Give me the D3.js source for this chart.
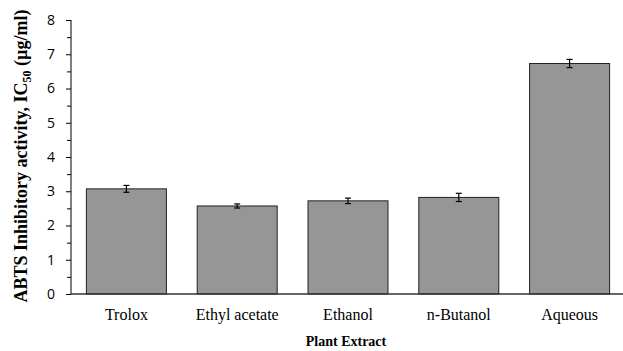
<!DOCTYPE html>
<html>
<head>
<meta charset="utf-8">
<script src="https://cdn.jsdelivr.net/npm/d3@7"></script>
<style>
  body { margin: 0; background: #fff; }
  .yaxis text { font-family: "Open Sans", "Liberation Sans", sans-serif; font-size: 14px; fill: #000; }
</style>
</head>
<body>
<div id="chart"></div>
<script>
// data
var categories = ["Trolox", "Ethyl acetate", "Ethanol", "n-Butanol", "Aqueous"];
var values = [3.07, 2.57, 2.72, 2.82, 6.73];
var errors = [0.10, 0.06, 0.08, 0.12, 0.12];
var yTicks = [0, 1, 2, 3, 4, 5, 6, 7, 8];

var W = 623, H = 351;
var margin = {top: 20, right: 0, bottom: 57, left: 71},
    width = W - margin.left - margin.right,
    height = H - margin.top - margin.bottom;

var svg = d3.select("#chart")
  .append("svg")
    .attr("width", W)
    .attr("height", H)
  .append("g")
    .attr("transform", "translate(" + margin.left + "," + margin.top + ")");

var data = categories.map(function(c, i) {
  return {name: c, value: values[i], err: errors[i]};
});

var x = d3.scaleBand()
  .domain(categories)
  .range([0, width + 2])
  .paddingInner(0.278)
  .paddingOuter(0.139);

var y = d3.scaleLinear()
  .domain([0, 8])
  .range([height, 0]);

// minor ticks every 0.5
svg.append("g")
  .attr("class", "minor")
  .call(d3.axisLeft(y).tickValues(d3.range(0.5, 8, 1)).tickSize(4).tickFormat(""))
  .call(function(g) { g.select(".domain").remove(); })
  .selectAll("line").attr("stroke", "#000");

// y axis
svg.append("g")
  .attr("class", "yaxis")
  .call(d3.axisLeft(y).tickValues(yTicks).tickSize(5).tickPadding(11).tickFormat(d3.format("d")))
  .call(function(g) {
    g.select(".domain").attr("d", "M0,0V" + height).attr("stroke", "#000");
    g.selectAll("line").attr("stroke", "#000");
  });

// bars
svg.selectAll("rect.bar")
  .data(data)
  .enter()
  .append("rect")
    .attr("class", "bar")
    .attr("x", function(d) { return x(d.name); })
    .attr("y", function(d) { return y(d.value); })
    .attr("width", x.bandwidth())
    .attr("height", function(d) { return height - y(d.value); })
    .attr("fill", "#969696")
    .attr("stroke", "#222")
    .attr("stroke-width", 1);

// x baseline
svg.append("line")
  .attr("x1", 0).attr("x2", width)
  .attr("y1", height).attr("y2", height)
  .attr("stroke", "#333")
  .attr("stroke-width", 1.5);

// error bars
var eb = svg.selectAll("g.err")
  .data(data)
  .enter()
  .append("g")
    .attr("class", "err")
    .attr("transform", function(d) { return "translate(" + (x(d.name) + x.bandwidth() / 2) + ",0)"; })
    .attr("stroke", "#000")
    .attr("stroke-width", 1.2);
eb.append("line")
  .attr("y1", function(d) { return y(d.value + d.err); })
  .attr("y2", function(d) { return y(d.value - d.err); });
eb.append("line")
  .attr("x1", -3).attr("x2", 3)
  .attr("y1", function(d) { return y(d.value + d.err); })
  .attr("y2", function(d) { return y(d.value + d.err); });
eb.append("line")
  .attr("x1", -3).attr("x2", 3)
  .attr("y1", function(d) { return y(d.value - d.err); })
  .attr("y2", function(d) { return y(d.value - d.err); });

// category labels
svg.selectAll("text.cat")
  .data(categories)
  .enter()
  .append("text")
    .attr("class", "cat")
    .attr("x", function(d) { return x(d) + x.bandwidth() / 2; })
    .attr("y", height + 26)
    .attr("text-anchor", "middle")
    .style("font-family", "'Liberation Serif', 'Times New Roman', serif")
    .style("font-size", "16px")
    .text(function(d) { return d; });

// x title
svg.append("text")
  .attr("x", 346 - margin.left)
  .attr("y", height + 52)
  .attr("text-anchor", "middle")
  .style("font-family", "'Liberation Serif', 'Times New Roman', serif")
  .style("font-size", "14px")
  .style("font-weight", "bold")
  .text("Plant Extract");

// y title
var yt = svg.append("text")
  .attr("transform", "translate(" + (27 - margin.left) + "," + (156 - margin.top) + ") rotate(-90)")
  .attr("text-anchor", "middle")
  .style("font-family", "'Liberation Serif', 'Times New Roman', serif")
  .style("font-size", "18px")
  .style("font-weight", "bold");
yt.append("tspan").text("ABTS Inhibitory activity, IC");
yt.append("tspan").attr("dy", 4).style("font-size", "12px").text("50");
yt.append("tspan").attr("dy", -4).text(" (\u00b5g/ml)");
</script>
</body>
</html>
